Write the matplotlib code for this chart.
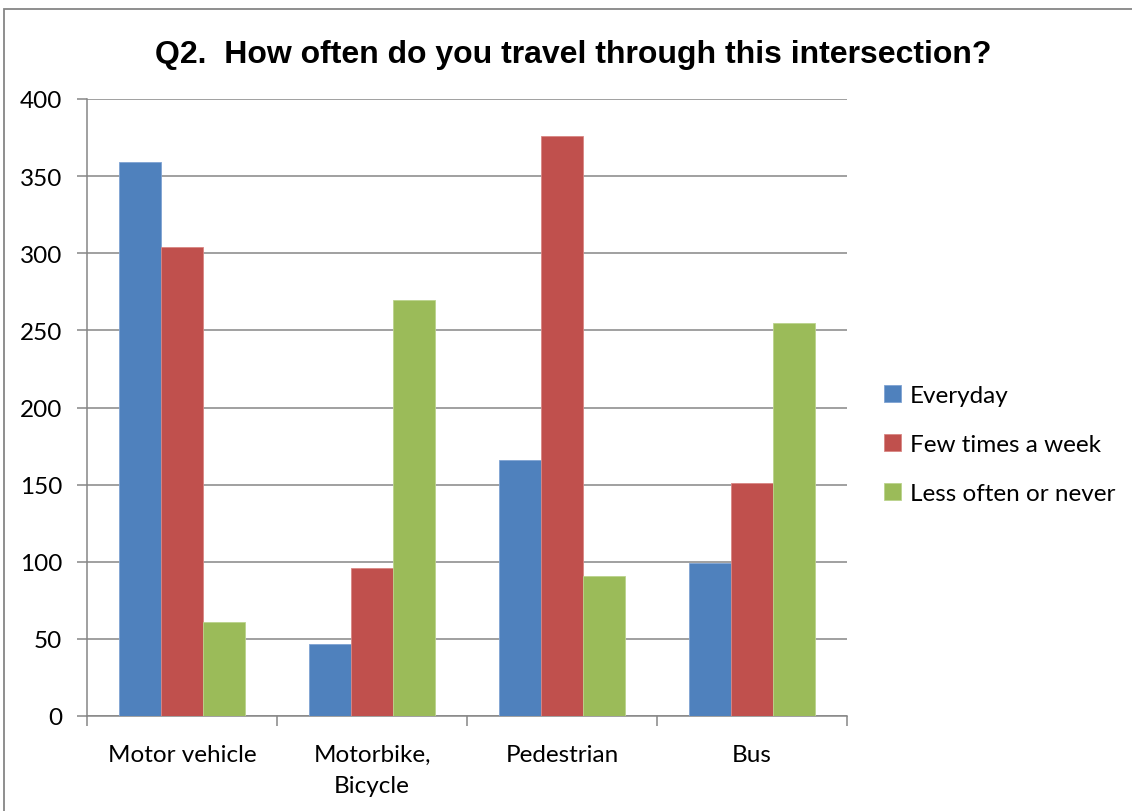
import numpy as np
import matplotlib
matplotlib.use("Agg")
import matplotlib.pyplot as plt
from matplotlib.patches import Rectangle

# survey answers per travel mode
modes = ["Motor vehicle", "Motorbike,\nBicycle", "Pedestrian", "Bus"]
everyday = [359, 47, 166, 99]
few_times = [304, 96, 376, 151]
less_often = [61, 270, 91, 255]
series_names = ["Everyday", "Few times a week", "Less often or never"]
yticks = [0, 50, 100, 150, 200, 250, 300, 350, 400]

colors = ["#4F81BD", "#C0504D", "#9BBB59"]
edges = ["#7FA3D3", "#D98683", "#BBD38C"]
grid_col = "#868686"

plt.rcParams['font.family'] = ['Lato', 'DejaVu Sans']

fig = plt.figure(figsize=(11.32, 8.12), dpi=100)
ax = fig.add_axes([87/1132, 95/812, 760/1132, 617/812])

x = np.arange(len(modes))
w = 1 / 4.5
for i, vals in enumerate([everyday, few_times, less_often]):
    ax.bar(x + (i - 1) * w, vals, width=w, color=colors[i], edgecolor=edges[i],
           linewidth=0.6, label=series_names[i], zorder=3)

ax.set_xlim(-0.5, len(modes) - 0.5)
ax.set_ylim(0, 400)
ax.set_yticks(yticks)
ax.yaxis.grid(True, color=grid_col, linewidth=1.1)
ax.set_axisbelow(True)

# category boundaries get the tick marks, names sit in the middle
ax.set_xticks(np.arange(-0.5, len(modes)), labels=[""] * (len(modes) + 1))
ax.set_xticks(x, labels=modes, minor=True)
ax.tick_params(axis="x", which="minor", length=0, pad=20, labelsize=17.5)
ax.tick_params(axis="x", which="major", length=7, width=1.1, color=grid_col)
ax.tick_params(axis="y", length=7, width=1.1, color=grid_col, pad=11, labelsize=17.5)
for lbl in ax.get_xticklabels(minor=True):
    lbl.set_linespacing(1.6)

for side in ["top", "right"]:
    ax.spines[side].set_visible(False)
for side in ["left", "bottom"]:
    ax.spines[side].set_color(grid_col)
    ax.spines[side].set_linewidth(1.1)

fig.text(0.506, 0.932, "Q2.  How often do you travel through this intersection?",
         ha="center", va="center", fontsize=23, fontweight="bold",
         family=["Liberation Sans", "DejaVu Sans"])

ax.legend(loc="center left", bbox_to_anchor=(1.02, 0.44), frameon=False,
          fontsize=17.5, handlelength=0.7, handleheight=0.7, handletextpad=0.35,
          labelspacing=1.17)

# outer chart border
fig.patches.append(Rectangle((4/1132, -0.1), 1.2, (812 - 10)/812 + 0.1,
                             transform=fig.transFigure, fill=False,
                             edgecolor=grid_col, linewidth=1.3))

fig.savefig("out.png", dpi=100)
